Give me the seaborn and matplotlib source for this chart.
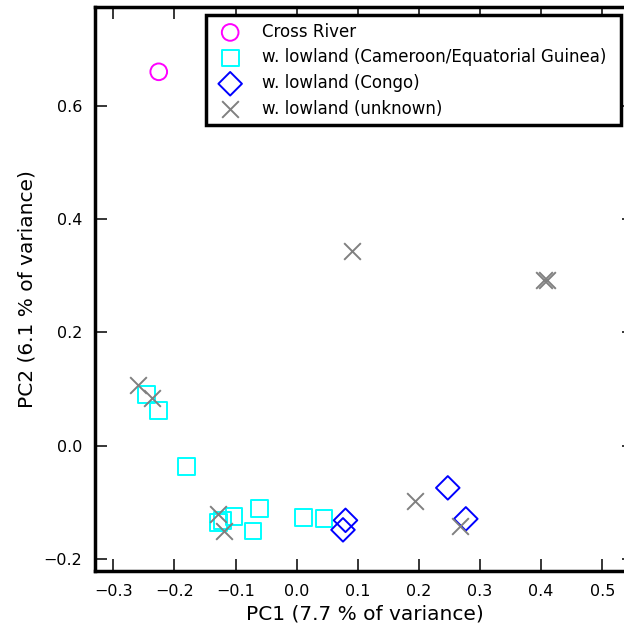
import matplotlib
matplotlib.use("Agg")
import matplotlib.pyplot as plt
import seaborn as sns
import pandas as pd

# ---- data ----
groups = ["Cross River",
          "w. lowland (Cameroon/Equatorial Guinea)",
          "w. lowland (Congo)",
          "w. lowland (unknown)"]

cross_pc1 = [-0.2257]
cross_pc2 = [0.6598]

cam_pc1 = [-0.2458, -0.2257, -0.1807, -0.1283, -0.1209, -0.1026, -0.0612, -0.0715, 0.0108, 0.0447]
cam_pc2 = [0.0900, 0.0618, -0.0362, -0.1350, -0.1315, -0.1249, -0.1108, -0.1502, -0.1262, -0.1279]

congo_pc1 = [0.0799, 0.0758, 0.2473, 0.2768]
congo_pc2 = [-0.1316, -0.1484, -0.0743, -0.1290]

unk_pc1 = [-0.2592, -0.2373, -0.1288, -0.1182, 0.1931, 0.2678, 0.0910, 0.4052, 0.4101]
unk_pc2 = [0.1071, 0.0836, -0.1209, -0.1505, -0.0981, -0.1408, 0.3441, 0.2929, 0.2919]

xticks = [-0.3, -0.2, -0.1, 0.0, 0.1, 0.2, 0.3, 0.4, 0.5]
yticks = [-0.2, 0.0, 0.2, 0.4, 0.6]

colors = ["magenta", "cyan", "blue", "gray"]
markers = ["o", "s", "D", "x"]

frames = []
for g, xs, ys in zip(groups, [cross_pc1, cam_pc1, congo_pc1, unk_pc1],
                     [cross_pc2, cam_pc2, congo_pc2, unk_pc2]):
    frames.append(pd.DataFrame({"pc1": xs, "pc2": ys, "group": g}))
df = pd.concat(frames, ignore_index=True)

sns.set_style("ticks")
plt.rcParams["font.family"] = ["DejaVu Sans"]
plt.rcParams.update({
    "text.color": "black", "axes.labelcolor": "black",
    "xtick.color": "black", "ytick.color": "black", "axes.edgecolor": "black",
    "xtick.direction": "in", "ytick.direction": "in",
    "xtick.bottom": True, "xtick.top": True,
    "ytick.left": True, "ytick.right": True,
    "xtick.major.size": 8.6, "ytick.major.size": 8.6,
    "xtick.major.width": 1.1, "ytick.major.width": 1.1,
    "xtick.major.pad": 9, "ytick.major.pad": 9,
    "xtick.labelsize": 11.5, "ytick.labelsize": 11.5,
})

W, H = 624, 636
fig = plt.figure(figsize=(W / 100, H / 100), dpi=100)
left, right, top, bottom = 95, 634, 6.8, 571
ax = fig.add_axes([left / W, 1 - bottom / H, (right - left) / W, (bottom - top) / H])

for g, c, m in zip(groups, colors, markers):
    sub = df[df["group"] == g]
    if m == "x":
        sns.scatterplot(data=sub, x="pc1", y="pc2", marker=m, s=144, color=c,
                        linewidth=1.4, label=g, legend=False, ax=ax, zorder=3)
    else:
        sns.scatterplot(data=sub, x="pc1", y="pc2", marker=m, s=144, color=c,
                        facecolor="none", edgecolor=c, linewidth=1.4,
                        label=g, legend=False, ax=ax, zorder=3)

ax.set_xlim(-0.330, 0.552)
ax.set_ylim(-0.221, 0.7745)
ax.set_xticks(xticks)
ax.set_yticks(yticks)
ax.set_xticklabels([f"{v:.1f}".replace("-", "\u2212") for v in xticks])
ax.set_yticklabels([f"{v:.1f}".replace("-", "\u2212") for v in yticks])
ax.tick_params(axis="both", which="major", direction="in", length=8.6, width=1.1,
               pad=9, labelsize=11.5, top=True, right=True, bottom=True, left=True,
               colors="black")
for sp in ax.spines.values():
    sp.set_visible(True)
    sp.set_linewidth(2.5)
    sp.set_color("black")
    sp.set_zorder(1)

ax.set_xlabel("PC1 (7.7 % of variance)", fontsize=14.5, labelpad=4, color="black")
ax.set_ylabel("PC2 (6.1 % of variance)", fontsize=14.5, labelpad=5, color="black")

aw, ah = right - left, bottom - top
lx0 = (206 - left) / aw
lw = (621 - 206) / aw
ltop = (bottom - 15.3) / ah
leg = ax.legend(loc="upper left", bbox_to_anchor=(lx0, ltop - 0.2, lw, 0.2), mode="expand",
                borderaxespad=0, frameon=True, fancybox=False, framealpha=1,
                edgecolor="black", scatterpoints=1, fontsize=12,
                labelspacing=0.46, handletextpad=0.9, borderpad=0.45)
leg.get_frame().set_linewidth(2.5)
for t in leg.get_texts():
    t.set_color("black")

fig.savefig("out.png", dpi=100)
